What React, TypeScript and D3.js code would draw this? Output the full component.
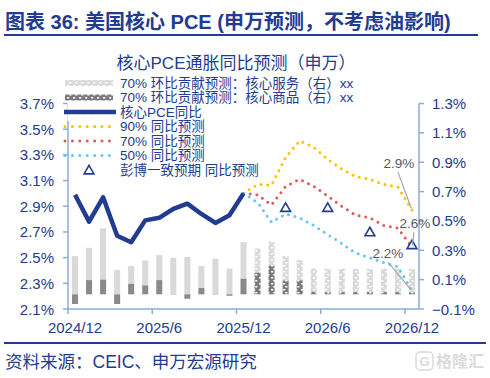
import React from "react";
import * as d3 from "d3";

const months = [
  "2024/12", "2025/1", "2025/2", "2025/3", "2025/4", "2025/5", "2025/6", "2025/7", "2025/8", "2025/9", "2025/10", "2025/11",
  "2025/12", "2026/1", "2026/2", "2026/3", "2026/4", "2026/5", "2026/6", "2026/7", "2026/8", "2026/9", "2026/10", "2026/11", "2026/12",
];
const tickMonths = ["2024/12", "2025/6", "2025/12", "2026/6", "2026/12"];
const leftTicks = [2.1, 2.3, 2.5, 2.7, 2.9, 3.1, 3.3, 3.5, 3.7];
const rightTicks = [-0.1, 0.1, 0.3, 0.5, 0.7, 0.9, 1.1, 1.3];

// actual core PCE YoY (2024/12 - 2025/12)
const actualMonths = months.slice(0, 13);
const corePce = [2.99, 2.78, 2.97, 2.67, 2.62, 2.79, 2.81, 2.88, 2.92, 2.84, 2.77, 2.83, 3.0];

// forecasts (2025/12 - 2026/12)
const fcMonths = months.slice(12);
const fc90 = [3.0, 3.07, 3.065, 3.28, 3.41, 3.36, 3.265, 3.19, 3.13, 3.11, 3.07, 3.05, 2.87];
const fc70 = [3.0, 2.99, 2.91, 3.055, 3.11, 3.055, 2.98, 2.9, 2.83, 2.81, 2.75, 2.73, 2.58];
const fc50 = [3.0, 2.93, 2.775, 2.84, 2.81, 2.75, 2.68, 2.61, 2.535, 2.5, 2.46, 2.43, 2.24];

// Bloomberg consensus
const bbgMonths = ["2026/3", "2026/6", "2026/9", "2026/12"];
const bbgValues = [2.89, 2.89, 2.7, 2.6];

// MoM contributions (right axis)
const goodsAct = [-0.066, 0.097, 0.1, -0.066, 0.072, 0.061, 0.097, 0.002, -0.03, 0.043, 0.003, -0.01, 0.106];
const servAct = [0.26, 0.22, 0.35, 0.165, 0.12, 0.17, 0.17, 0.247, 0.255, 0.15, 0.24, 0.175, 0.25];
const fcBarMonths = months.slice(13);
const goodsFc = [0.147, 0.195, 0.094, 0.095, 0.017, 0.015, 0.015, 0.015, 0.015, 0.015, 0.015, 0.013];
const servFc = [0.166, 0.165, 0.167, 0.139, 0.16, 0.16, 0.16, 0.16, 0.16, 0.16, 0.16, 0.16];

const NAVY = "#213c91";
const AXIS = "#8eaadb";
const GOLD = "#ffc000";
const RED = "#e05a5a";
const LBLUE = "#5ec8f8";
const LGRAY = "#d9d9d9";
const DGRAY = "#8a8a8a";
const FONT = "'Liberation Sans', Arial, 'Noto Sans CJK SC', sans-serif";

const W = 490, H = 378;
const PL = 68, PR = 419, PT = 103.5, PB = 309;

export default function App() {
  const x = d3.scaleBand<string>().domain(months).range([PL, PR]).padding(0);
  const bw = x.bandwidth();
  const xc = (m: string) => (x(m) as number) + bw / 2;
  const yL = d3.scaleLinear().domain([2.1, 3.7]).range([PB, PT]);
  const yR = d3.scaleLinear().domain([-0.1, 1.3]).range([PB, PT]);
  const barW = bw * 0.43;

  const lineA = d3.line<number>().x((_, i) => xc(actualMonths[i])).y((d) => yL(d));
  const lineF = d3.line<number>().x((_, i) => xc(fcMonths[i])).y((d) => yL(d));

  const stack = (ms: string[], g: number[], s: number[]) =>
    ms.map((m, i) => {
      const gv = g[i], sv = s[i];
      const gy0 = yR(0), gy1 = yR(gv);
      const sBase = gv >= 0 ? gv : 0;
      return {
        m,
        goods: { y: Math.min(gy0, gy1), h: Math.abs(gy1 - gy0) },
        serv: { y: yR(sBase + sv), h: yR(sBase) - yR(sBase + sv) },
      };
    });
  const actBars = stack(actualMonths, goodsAct, servAct);
  const fcBars = stack(fcBarMonths, goodsFc, servFc);

  const dotted = { strokeWidth: 3, strokeDasharray: "0 6.7", strokeLinecap: "round" as const, fill: "none" };
  const tri = d3.symbol(d3.symbolTriangle, 42)() as string;
  const fmt = (v: number) => d3.format(".1f")(v) + "%";

  const lastIdx = fcMonths.length - 1;
  const endX = xc(fcMonths[lastIdx]);
  const labels = [
    { v: fc90[lastIdx], dx: -13, dy: -47 },
    { v: fc70[lastIdx], dx: 3, dy: -24 },
    { v: fc50[lastIdx], dx: -24, dy: -38 },
  ];

  const legendY0 = 83, legendStep = 14.5;
  const legendItems = [
    { kind: "pat-s", text: "70% 环比贡献预测：核心服务（右）xx" },
    { kind: "pat-g", text: "70% 环比贡献预测：核心商品（右）xx" },
    { kind: "line", text: "核心PCE同比" },
    { kind: "dot", color: GOLD, text: "90% 同比预测" },
    { kind: "dot", color: RED, text: "70% 同比预测" },
    { kind: "dot", color: LBLUE, text: "50% 同比预测" },
    { kind: "tri", text: "彭博一致预期 同比预测" },
  ];

  return (
    <svg width={W} height={H} style={{ position: "absolute", left: 0, top: 0, background: "#fff" }} fontFamily={FONT}>
      <defs>
        <pattern id="pS" width={6} height={6} patternUnits="userSpaceOnUse">
          <rect width={6} height={6} fill={LGRAY} />
          <path d="M1,1h2.2v1.6h-2.2z M3.2,4h2.2v1.6h-2.2z" fill="#fff" />
        </pattern>
        <pattern id="pG" width={6} height={6} patternUnits="userSpaceOnUse">
          <rect width={6} height={6} fill="#7a7a7a" />
          <path d="M1,1h2.2v1.6h-2.2z M3.2,4h2.2v1.6h-2.2z" fill="#fff" />
        </pattern>
      </defs>

      {/* Title */}
      <text x={5} y={29} fontSize={20} fontWeight="bold" fill={NAVY}>
        图表 36: 美国核心 PCE (申万预测，不考虑油影响)
      </text>
      <line x1={4} x2={478} y1={35} y2={35} stroke={NAVY} strokeWidth={2} />

      {/* Chart title */}
      <text x={236} y={63} fontSize={17} fill={NAVY} textAnchor="middle" dominantBaseline="central">
        核心PCE通胀同比预测（申万）
      </text>

      {/* bars */}
      {actBars.map((b) => (
        <g key={"a" + b.m}>
          <rect x={xc(b.m) - barW / 2} y={b.serv.y} width={barW} height={b.serv.h} fill={LGRAY} />
          <rect x={xc(b.m) - barW / 2} y={b.goods.y} width={barW} height={b.goods.h} fill={DGRAY} />
        </g>
      ))}
      {fcBars.map((b) => (
        <g key={"f" + b.m}>
          <rect x={xc(b.m) - barW / 2} y={b.serv.y} width={barW} height={b.serv.h} fill="url(#pS)" />
          <rect x={xc(b.m) - barW / 2} y={b.goods.y} width={barW} height={b.goods.h} fill="url(#pG)" />
        </g>
      ))}

      {/* axes */}
      <line x1={PL} x2={PL} y1={PT} y2={PB} stroke={AXIS} strokeWidth={1.5} />
      <line x1={PR} x2={PR} y1={PT} y2={PB} stroke={AXIS} strokeWidth={1.5} />
      <line x1={PL} x2={PR} y1={PB} y2={PB} stroke={AXIS} strokeWidth={1.5} />
      {leftTicks.map((t) => (
        <g key={"l" + t}>
          <line x1={PL - 5} x2={PL} y1={yL(t)} y2={yL(t)} stroke={AXIS} strokeWidth={1.5} />
          <text x={PL - 14} y={yL(t)} fontSize={15} fill={NAVY} textAnchor="end" dominantBaseline="central">
            {fmt(t)}
          </text>
        </g>
      ))}
      {rightTicks.map((t) => (
        <g key={"r" + t}>
          <line x1={PR} x2={PR + 5} y1={yR(t)} y2={yR(t)} stroke={AXIS} strokeWidth={1.5} />
          <text x={PR + 13} y={yR(t)} fontSize={15} fill={NAVY} dominantBaseline="central">
            {fmt(t)}
          </text>
        </g>
      ))}
      {tickMonths.map((m) => (
        <g key={"x" + m}>
          <line x1={x(m)} x2={x(m)} y1={PB} y2={PB + 5} stroke={AXIS} strokeWidth={1.5} />
          <text x={xc(m)} y={327} fontSize={15} fill={NAVY} textAnchor="middle" dominantBaseline="central">
            {m}
          </text>
        </g>
      ))}

      {/* lines */}
      <path d={lineF(fc90) as string} stroke={GOLD} {...dotted} />
      <path d={lineF(fc70) as string} stroke={RED} {...dotted} />
      <path d={lineF(fc50) as string} stroke={LBLUE} {...dotted} />
      <path d={lineA(corePce) as string} stroke={NAVY} strokeWidth={4.5} fill="none" strokeLinejoin="round" />
      {bbgMonths.map((m, i) => (
        <path key={"b" + m} d={tri} transform={`translate(${xc(m)},${yL(bbgValues[i]) + 1})`} fill="#fff" stroke={NAVY} strokeWidth={1.6} />
      ))}

      {/* data labels */}
      {labels.map((l, i) => {
        const py = yL(l.v);
        const lx = endX + l.dx, ly = py + l.dy;
        const sx = lx + (l.dx < -15 ? 0 : -1), sy = ly + 9;
        const ang = Math.atan2(py - sy, endX - sx);
        return (
          <g key={"lb" + i}>
            <line x1={sx} y1={sy} x2={endX - 2 * Math.cos(ang)} y2={py - 2 * Math.sin(ang)} stroke="#a6a6a6" strokeWidth={1.2} />
            <text x={lx} y={ly} fontSize={13.5} fill="#595959" textAnchor="middle" dominantBaseline="central">
              {fmt(l.v)}
            </text>
          </g>
        );
      })}

      {/* legend */}
      <rect x={67.5} y={75} width={295} height={46} fill="#fff" />
      {legendItems.map((it, i) => {
        const y = legendY0 + i * legendStep;
        let sym: React.ReactNode = null;
        if (it.kind === "pat-s") sym = <rect x={65} y={y - 3} width={48} height={6} fill="url(#pS)" />;
        else if (it.kind === "pat-g") sym = <rect x={65} y={y - 3} width={48} height={6} fill="url(#pG)" />;
        else if (it.kind === "line") sym = <line x1={64} x2={116} y1={y} y2={y} stroke={NAVY} strokeWidth={4.5} />;
        else if (it.kind === "dot") sym = <line x1={65} x2={114} y1={y} y2={y} stroke={it.color} {...dotted} strokeDasharray="0 7.4" />;
        else sym = <path d={tri} transform={`translate(89,${y + 1})`} fill="#fff" stroke={NAVY} strokeWidth={1.6} />;
        return (
          <g key={"lg" + i}>
            {sym}
            <text x={120} y={y} fontSize={13.5} fill={NAVY} dominantBaseline="central">
              {it.text}
            </text>
          </g>
        );
      })}

      {/* footer */}
      <line x1={4} x2={486} y1={343} y2={343} stroke={NAVY} strokeWidth={2} />
      <text x={5} y={362} fontSize={17.5} fill={NAVY} dominantBaseline="central">
        资料来源：CEIC、申万宏源研究
      </text>
      <g opacity={0.35}>
        <rect x={416} y={352} width={17} height={18} rx={4} fill="none" stroke="#999" strokeWidth={1.5} />
        <text x={424.5} y={361.5} fontSize={13} fill="#999" textAnchor="middle" dominantBaseline="central" fontWeight="bold">
          G
        </text>
        <text x={436} y={361.5} fontSize={16} fill="#999" dominantBaseline="central" fontWeight="bold">
          格隆汇
        </text>
      </g>
    </svg>
  );
}
